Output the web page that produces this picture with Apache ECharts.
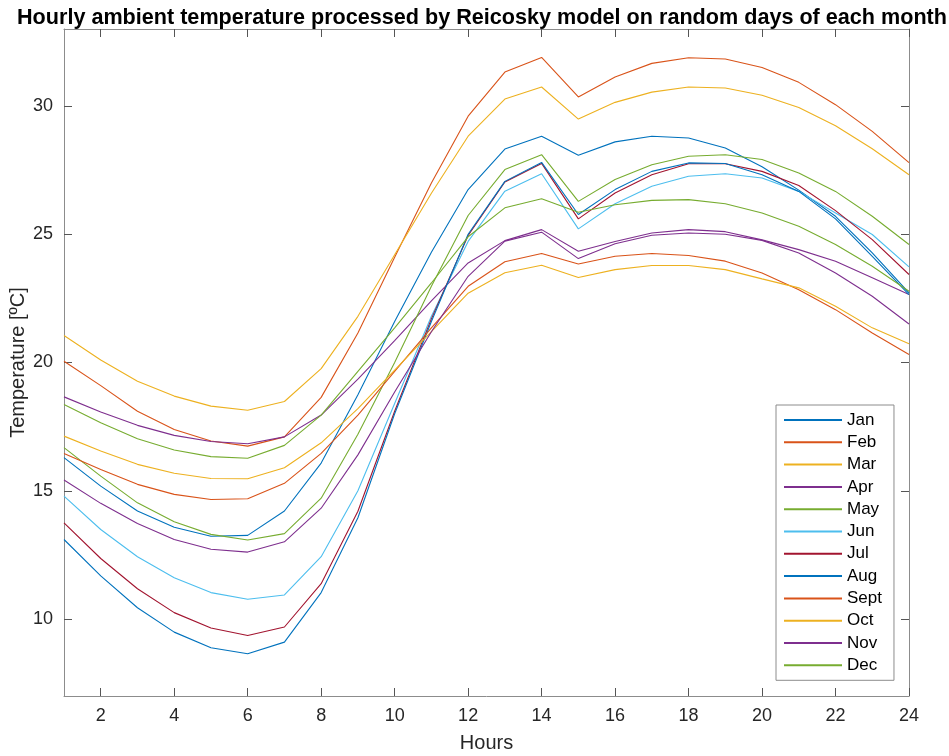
<!DOCTYPE html>
<html>
<head>
<meta charset="utf-8">
<script src="https://cdn.jsdelivr.net/npm/echarts@6/dist/echarts.min.js"></script>
<style>
  html, body { margin: 0; padding: 0; background: #fff; }
  #chart { width: 949px; height: 756px; }
</style>
</head>
<body>
<div id="chart"></div>
<script>
// Hours of the day (x values)
const hours = [1,2,3,4,5,6,7,8,9,10,11,12,13,14,15,16,17,18,19,20,21,22,23,24];
const xTicks = [2,4,6,8,10,12,14,16,18,20,22,24];
const yTicks = [10,15,20,25,30];

const months = ['Jan','Feb','Mar','Apr','May','Jun','Jul','Aug','Sept','Oct','Nov','Dec'];

// Hourly temperature (ºC) for one day of each month
const tJan  = [16.29,15.18,14.21,13.58,13.23,13.26,14.21,16.08,18.74,21.6,24.3,26.74,28.32,28.82,28.08,28.6,28.82,28.75,28.36,27.63,26.72,25.7,24.27,22.71];
const tFeb  = [20.05,19.1,18.1,17.39,16.94,16.74,17.1,18.64,21.15,24.1,27.0,29.6,31.32,31.89,30.35,31.13,31.66,31.88,31.83,31.5,30.92,30.05,29.01,27.79];
const tMar  = [21.05,20.1,19.27,18.69,18.3,18.14,18.48,19.76,21.8,24.2,26.6,28.82,30.27,30.74,29.49,30.14,30.54,30.74,30.7,30.42,29.94,29.23,28.33,27.32];
const tApr  = [18.66,18.07,17.55,17.16,16.92,16.83,17.1,17.95,19.35,20.85,22.4,23.88,24.75,25.18,24.34,24.72,25.05,25.18,25.1,24.78,24.4,23.95,23.3,22.65];
const tMay  = [16.68,15.57,14.53,13.79,13.3,13.08,13.33,14.71,17.2,20.0,22.97,25.73,27.52,28.1,26.28,27.13,27.71,28.04,28.1,27.91,27.39,26.67,25.7,24.6];
const tJun  = [14.79,13.49,12.43,11.61,11.03,10.77,10.94,12.43,15.0,18.4,21.8,24.72,26.68,27.36,25.21,26.19,26.87,27.26,27.36,27.19,26.67,25.83,24.99,23.73];
const tJul  = [13.75,12.36,11.18,10.25,9.65,9.36,9.69,11.38,14.2,18.1,21.7,24.95,27.04,27.76,25.6,26.61,27.32,27.75,27.75,27.45,26.9,25.92,24.79,23.43];
const tAug  = [13.1,11.68,10.44,9.49,8.88,8.65,9.1,11.03,13.95,18.0,21.6,25.0,27.06,27.8,25.77,26.74,27.45,27.78,27.76,27.32,26.67,25.6,24.14,22.65];
const tSept = [16.45,15.83,15.25,14.86,14.66,14.69,15.29,16.46,17.95,19.65,21.35,22.97,23.93,24.25,23.84,24.14,24.25,24.17,23.95,23.49,22.84,22.06,21.15,20.31];
const tOct  = [17.13,16.55,16.03,15.68,15.48,15.47,15.9,16.87,18.2,19.7,21.2,22.7,23.5,23.79,23.31,23.62,23.78,23.78,23.62,23.26,22.91,22.19,21.35,20.73];
const tNov  = [15.42,14.51,13.72,13.1,12.72,12.61,13.01,14.32,16.4,18.85,21.2,23.36,24.73,25.08,24.05,24.63,24.96,25.05,25.0,24.76,24.27,23.49,22.58,21.5];
const tDec  = [18.36,17.65,17.03,16.59,16.33,16.27,16.77,17.95,19.65,21.35,23.1,24.9,26.03,26.38,25.86,26.15,26.32,26.35,26.19,25.83,25.31,24.6,23.75,22.78];

const monthly = [tJan,tFeb,tMar,tApr,tMay,tJun,tJul,tAug,tSept,tOct,tNov,tDec];

// Default line colour order, cycled for the last five months
const palette = ['#0072BD','#D95319','#EDB120','#7E2F8E','#77AC30','#4DBEEE','#A2142F'];

const FONT = '"Liberation Sans", Arial, Helvetica, sans-serif';
const AXIS_COLOR = '#8c8c8c';
const TEXT_COLOR = '#262626';

const series = months.map((m, i) => ({
  name: m,
  type: 'line',
  xAxisIndex: 0,
  yAxisIndex: 0,
  data: hours.map((h, k) => [h, monthly[i][k]]),
  symbol: 'none',
  lineStyle: { width: 1.1, color: palette[i % palette.length] },
  itemStyle: { color: palette[i % palette.length] },
  animation: false
}));

function boxAxis(pos, ticks, showLabel, extra) {
  return Object.assign({
    type: 'value',
    position: pos,
    axisLine: { show: true, onZero: false, lineStyle: { color: AXIS_COLOR, width: 1 } },
    axisTick: { show: true, inside: true, length: 8, customValues: ticks, lineStyle: { color: '#555', width: 1 } },
    axisLabel: showLabel
      ? { show: true, customValues: ticks, color: TEXT_COLOR, fontSize: 18, fontFamily: FONT, margin: 11 }
      : { show: false },
    splitLine: { show: false }
  }, extra);
}

const chart = echarts.init(document.getElementById('chart'), null, { renderer: 'canvas' });
chart.setOption({
  backgroundColor: '#ffffff',
  animation: false,
  title: {
    text: 'Hourly ambient temperature processed by Reicosky model on random days of each month',
    left: 12,
    top: 2,
    textStyle: { fontFamily: FONT, fontWeight: 'bold', fontSize: 21.6, color: '#000' }
  },
  grid: { left: 64, right: 40, top: 29, bottom: 60, containLabel: false, outerBoundsMode: 'none' },
  xAxis: [
    boxAxis('bottom', xTicks, true, {
      min: 1, max: 24,
      name: 'Hours', nameLocation: 'middle', nameGap: 37, nameMoveOverlap: false,
      nameTextStyle: { fontFamily: FONT, fontSize: 20, color: TEXT_COLOR }
    }),
    boxAxis('top', xTicks, false, { min: 1, max: 24 })
  ],
  yAxis: [
    boxAxis('left', yTicks, true, {
      min: 7, max: 33,
      name: 'Temperature [ºC]', nameLocation: 'middle', nameGap: 36, nameMoveOverlap: false,
      nameTextStyle: { fontFamily: FONT, fontSize: 20, color: TEXT_COLOR }
    }),
    boxAxis('right', yTicks, false, { min: 7, max: 33 })
  ],
  legend: {
    orient: 'vertical',
    left: 776,
    top: 405,
    width: 117,
    padding: [6, 12, 6, 8],
    backgroundColor: '#fff',
    borderColor: '#8c8c8c',
    borderWidth: 1,
    icon: 'rect',
    itemWidth: 58,
    itemHeight: 2,
    itemGap: 4.3,
    textStyle: { fontFamily: FONT, fontSize: 17, color: '#000', lineHeight: 18 },
    data: months
  },
  series: series
});
</script>
</body>
</html>
